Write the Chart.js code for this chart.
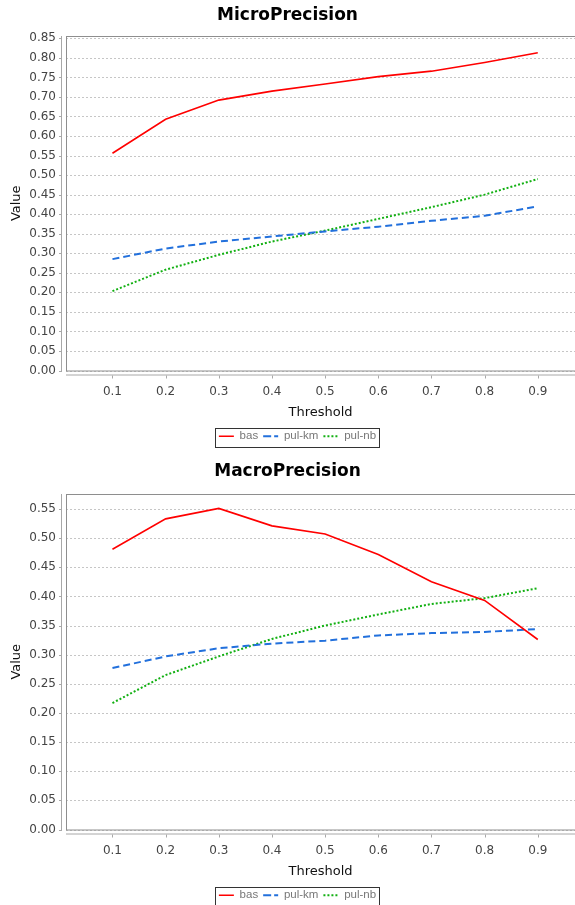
<!DOCTYPE html>
<html>
<head>
<meta charset="utf-8">
<script src="https://cdn.jsdelivr.net/npm/chart.js@4/dist/chart.umd.min.js"></script>
<style>
  html, body { margin: 0; padding: 0; background: #fff; }
  body { position: relative; width: 575px; height: 905px; overflow: hidden; }
  canvas { display: block; position: absolute; left: 0; }
  #microChart { top: 0; }
  #macroChart { top: 451px; }
</style>
</head>
<body>
<canvas id="microChart" width="575" height="455" style="width:575px;height:455px"></canvas>
<canvas id="macroChart" width="575" height="460" style="width:575px;height:460px"></canvas>
<script>
  // thresholds on the x axis
  const thresholds = [0.1, 0.2, 0.3, 0.4, 0.5, 0.6, 0.7, 0.8, 0.9];
  const thresholdLabels = ["0.1", "0.2", "0.3", "0.4", "0.5", "0.6", "0.7", "0.8", "0.9"];

  // MicroPrecision
  const microBas = [0.556, 0.643, 0.692, 0.715, 0.733, 0.752, 0.766, 0.788, 0.813];
  const microPulKm = [0.285, 0.312, 0.330, 0.343, 0.356, 0.368, 0.383, 0.396, 0.420];
  const microPulNb = [0.203, 0.258, 0.296, 0.330, 0.358, 0.388, 0.418, 0.450, 0.490];
  const microTicks = [0, 0.05, 0.1, 0.15, 0.2, 0.25, 0.3, 0.35, 0.4, 0.45, 0.5, 0.55, 0.6, 0.65, 0.7, 0.75, 0.8, 0.85];

  // MacroPrecision
  const macroBas = [0.481, 0.533, 0.551, 0.521, 0.507, 0.472, 0.425, 0.393, 0.326];
  const macroPulKm = [0.277, 0.297, 0.311, 0.319, 0.324, 0.333, 0.337, 0.339, 0.344];
  const macroPulNb = [0.217, 0.265, 0.297, 0.327, 0.350, 0.369, 0.387, 0.397, 0.414];
  const macroTicks = [0, 0.05, 0.1, 0.15, 0.2, 0.25, 0.3, 0.35, 0.4, 0.45, 0.5, 0.55];

  const seriesNames = ["bas", "pul-km", "pul-nb"];
  const legendShift = 10;

  const frame = {
    id: "frame",
    afterLayout(chart) {
      // legend sits a little right of the canvas centre in the original
      const lg = chart.legend;
      if (!lg) return;
      lg.left += legendShift;
      lg.right += legendShift;
      lg.legendHitBoxes.forEach((b) => {
        b.left += legendShift;
      });
    },
    beforeDatasetsDraw(chart) {
      const { ctx, chartArea: a, scales: { x, y } } = chart;
      ctx.save();
      ctx.lineWidth = 1;
      // dotted horizontal grid
      ctx.strokeStyle = "#c6c6c6";
      ctx.setLineDash([2, 2]);
      y.ticks.forEach((t) => {
        const py = Math.round(y.getPixelForValue(t.value)) + 0.5;
        ctx.beginPath();
        ctx.moveTo(a.left, py);
        ctx.lineTo(a.right, py);
        ctx.stroke();
      });
      ctx.setLineDash([]);
      // plot outline
      ctx.strokeStyle = "#8e8e8e";
      ctx.strokeRect(a.left + 0.5, a.top + 0.5, a.right - a.left, a.bottom - a.top);
      // offset axis lines + tick marks
      ctx.strokeStyle = "#a8a8a8";
      ctx.beginPath();
      ctx.moveTo(a.left - 4.5, a.top);
      ctx.lineTo(a.left - 4.5, a.bottom + 1);
      ctx.moveTo(a.left, a.bottom + 4.5);
      ctx.lineTo(a.right, a.bottom + 4.5);
      y.ticks.forEach((t) => {
        const py = Math.round(y.getPixelForValue(t.value)) + 0.5;
        ctx.moveTo(a.left - 7, py);
        ctx.lineTo(a.left - 4, py);
      });
      x.ticks.forEach((t) => {
        const px = Math.round(x.getPixelForValue(t.value)) + 0.5;
        ctx.moveTo(px, a.bottom + 5);
        ctx.lineTo(px, a.bottom + 8);
      });
      ctx.stroke();
      ctx.restore();
    },
    afterDraw(chart) {
      const boxes = chart.legend && chart.legend.legendHitBoxes;
      if (!boxes || !boxes.length) return;
      const left = Math.min(...boxes.map((b) => b.left)) - 4;
      const right = Math.max(...boxes.map((b) => b.left + b.width)) + 3;
      const top = Math.min(...boxes.map((b) => b.top)) - 3;
      const bottom = Math.max(...boxes.map((b) => b.top + b.height)) + 4;
      const { ctx } = chart;
      ctx.save();
      ctx.strokeStyle = "#333";
      ctx.lineWidth = 1;
      ctx.strokeRect(Math.round(left) + 0.5, Math.round(top) + 0.5, Math.round(right - left), Math.round(bottom - top));
      ctx.restore();
    },
  };

  function makeDataset(label, values, color, dash, width) {
    return {
      label,
      data: thresholds.map((t, i) => ({ x: t, y: values[i] })),
      borderColor: color,
      backgroundColor: "rgba(0,0,0,0)",
      borderWidth: width,
      borderDash: dash,
      pointRadius: 0,
      tension: 0,
      fill: false,
    };
  }

  function buildChart(canvas, title, bas, pulKm, pulNb, yMax, yTicks, titlePad, bottomPad) {
    return new Chart(canvas, {
      type: "line",
      data: {
        datasets: [
          makeDataset(seriesNames[0], bas, "#ff0000", [], 1.6),
          makeDataset(seriesNames[1], pulKm, "#2270dc", [7, 4], 2),
          makeDataset(seriesNames[2], pulNb, "#12b012", [2, 2], 2),
        ],
      },
      options: {
        responsive: false,
        animation: false,
        layout: { padding: { left: 0, right: 0, top: 0, bottom: bottomPad } },
        scales: {
          x: {
            type: "linear",
            min: 0.0126,
            max: 0.97,
            afterBuildTicks: (s) => {
              s.ticks = thresholds.map((v) => ({ value: v }));
            },
            afterFit: (s) => {
              s.height = 55;
            },
            grid: { display: false, drawTicks: false },
            border: { display: false },
            ticks: {
              padding: 14,
              color: "#444",
              font: { family: "DejaVu Sans", size: 12 },
              maxRotation: 0,
              callback: (v, i) => thresholdLabels[i],
            },
            title: {
              display: true,
              text: "Threshold",
              color: "#111",
              font: { family: "DejaVu Sans", size: 13 },
              padding: { top: 0, bottom: 5.5 },
            },
          },
          y: {
            min: 0,
            max: yMax,
            afterBuildTicks: (s) => {
              s.ticks = yTicks.map((v) => ({ value: v }));
            },
            afterFit: (s) => {
              s.width = 66;
            },
            grid: { display: false, drawTicks: false },
            border: { display: false },
            ticks: {
              padding: 10,
              color: "#444",
              font: { family: "DejaVu Sans", size: 12 },
              callback: (v) => v.toFixed(2),
            },
            title: {
              display: true,
              text: "Value",
              color: "#111",
              font: { family: "DejaVu Sans", size: 13 },
              padding: { top: 9, bottom: 0 },
            },
          },
        },
        plugins: {
          title: {
            display: true,
            text: title,
            color: "#000",
            font: { family: "DejaVu Sans", size: 17, weight: "bold" },
            padding: titlePad,
          },
          legend: {
            position: "bottom",
            labels: {
              boxWidth: 15,
              boxHeight: 0,
              padding: 5,
              color: "#777",
              font: { family: "Liberation Sans", size: 11.5 },
            },
          },
          tooltip: { enabled: false },
        },
      },
      plugins: [frame],
    });
  }

  buildChart(document.querySelector("#microChart"), "MicroPrecision",
    microBas, microPulKm, microPulNb, 0.856, microTicks, { top: 5, bottom: 10.6 }, 3);
  buildChart(document.querySelector("#macroChart"), "MacroPrecision",
    macroBas, macroPulKm, macroPulNb, 0.5757, macroTicks, { top: 10.8, bottom: 11.8 }, 0);
</script>
</body>
</html>
